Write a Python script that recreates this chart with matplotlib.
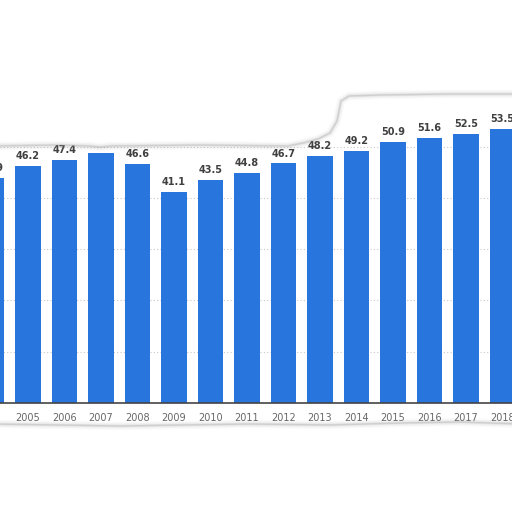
import matplotlib
matplotlib.use('Agg')
import matplotlib.pyplot as plt
from matplotlib.patches import Polygon, PathPatch
from matplotlib.path import Path
import numpy as np

# data (2004 and 2007 labels are hidden by the torn edge)
years = [2004, 2005, 2006, 2007, 2008, 2009, 2010, 2011,
         2012, 2013, 2014, 2015, 2016, 2017, 2018]
values = [43.9, 46.2, 47.4, 48.7, 46.6, 41.1, 43.5, 44.8,
          46.7, 48.2, 49.2, 50.9, 51.6, 52.5, 53.5]
value_labels = ['43.9', '46.2', '47.4', '48.7', '46.6', '41.1', '43.5', '44.8',
                '46.7', '48.2', '49.2', '50.9', '51.6', '52.5', '53.5']
grid_levels = [10, 20, 30, 40, 50]

bar_color = '#2876dd'

W = 512
fig = plt.figure(figsize=(5.12, 5.12), dpi=100)
fig.patch.set_facecolor('white')

# axes placement: baseline at pixel 403, ~5.13 px per unit
base_px = 403
px_per_unit = 5.13
ymax = 62
ax = fig.add_axes([0, 1 - base_px / W, 1, ymax * px_per_unit / W])
ax.patch.set_visible(False)

ax.bar(years, values, width=0.71, color=bar_color, zorder=2)

for x, v, lab in zip(years, values, value_labels):
    ax.annotate(lab, (x, v), xytext=(0, 3.5), textcoords='offset points',
                ha='center', va='bottom', fontsize=7, fontweight='bold',
                color='#404040', zorder=3, annotation_clip=False)

ax.set_yticks(grid_levels)
ax.yaxis.grid(True, linestyle=(0, (1, 2)), color='#c8c8c8', linewidth=0.8)
ax.set_axisbelow(True)
ax.tick_params(axis='y', left=False, labelleft=False)

ax.set_xticks(years)
ax.set_xticklabels([str(y) for y in years])
ax.tick_params(axis='x', length=0, pad=7.5, labelsize=7, labelcolor='#666666')

# limits last, so the ticks do not widen them
ax.set_xlim(2004.233, 2018.26)
ax.set_ylim(0, ymax)

for s in ['top', 'left', 'right']:
    ax.spines[s].set_visible(False)
ax.spines['bottom'].set_color('#444444')
ax.spines['bottom'].set_linewidth(1.2)

# torn paper outline (pixel coords, y from top)
torn_px = [(-10, 146), (60, 145), (88, 146), (100, 147), (112, 146),
           (200, 145), (288, 146), (303, 143), (318, 139), (330, 133),
           (337, 121), (341, 101), (349, 96), (380, 95), (450, 94), (522, 94),
           (522, 424), (460, 422), (400, 423), (330, 425), (250, 424),
           (180, 425), (120, 426), (60, 425), (-10, 424)]
torn = np.array([(x / W, 1 - y / W) for x, y in torn_px])

# white mask over everything outside the tear
outer = np.array([(-0.1, -0.1), (1.1, -0.1), (1.1, 1.1), (-0.1, 1.1), (-0.1, -0.1)])
verts = np.vstack([outer, torn, torn[:1]])
codes = ([Path.MOVETO] + [Path.LINETO] * 3 + [Path.CLOSEPOLY]
         + [Path.MOVETO] + [Path.LINETO] * (len(torn) - 1) + [Path.CLOSEPOLY])
mask = PathPatch(Path(verts, codes), facecolor='white', edgecolor='none',
                 transform=fig.transFigure, zorder=10)
fig.add_artist(mask)

# soft grey shadow along the tear
for lw, a in [(6, 0.04), (4, 0.07), (2, 0.12), (1, 0.22)]:
    edge = Polygon(torn, closed=True, fill=False, edgecolor='#888888',
                   linewidth=lw, alpha=a, transform=fig.transFigure,
                   joinstyle='round', zorder=11)
    fig.add_artist(edge)

fig.savefig('out.png', dpi=100, facecolor='white')
